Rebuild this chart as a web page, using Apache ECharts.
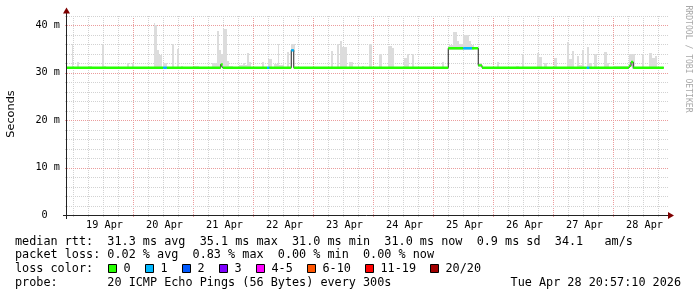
<!DOCTYPE html>
<html><head><meta charset="utf-8">
<script src="https://cdn.jsdelivr.net/npm/echarts@6/dist/echarts.min.js"></script>
<style>html,body{margin:0;padding:0;background:#fff}#c{width:697px;height:297px}</style>
</head><body><div id="c"></div>
<script>
// x values are hours since 18 Apr 00:00
const axisStartHour = 21.6, axisEndHour = 261.6;
const yMax = 42;
const dayLabels = ['19 Apr','20 Apr','21 Apr','22 Apr','23 Apr','24 Apr','25 Apr','26 Apr','27 Apr','28 Apr'];
const dayLabelHours = [36,60,84,108,132,156,180,204,228,252];
const minorGridHours = [24,30,36,42,48,54,60,66,72,78,84,90,96,102,108,114,120,126,132,138,144,150,156,162,168,174,180,186,192,198,204,210,216,222,228,234,240,246,252,258];
const majorGridHours = [48,72,96,120,144,168,192,216,240];
const yGridValues = [2,4,6,8,10,12,14,16,18,20,22,24,26,28,30,32,34,36,38,40,42];
const yMajorValues = [10,20,30,40];

// median RTT (ms) as steps between breakpoints, with loss count (of 20)
const medianBreaks = [21.6,60.1,61.5,83.1,83.9,101.6,102.5,111.3,112.3,174.1,180.1,183.6,186.1,187.6,229.5,230.5,246.3,247.2,248.1,260.3];
const medianValues = [31.0,31.0,31.0,31.7,31.0,31.0,31.0,34.7,31.0,35.1,35.1,35.1,31.5,31.0,31.0,31.0,31.4,32.2,31.0];
const medianLoss   = [0,1,0,0,0,1,0,1,0,0,1,0,0,0,1,0,0,0,0];

// smoke (spread of pings): start hour, end hour, top ms
const smokeStart = [23.6,25.6,30.5,35.6,36.5,45.6,47.6,56.3,56.9,57.6,58.5,60.1,63.6,65.6,67.2,72.5,79.5,81.5,82.3,83.1,84.1,85.5,86.5,90.5,92.1,92.7,93.5,94.3,99.6,101.9,104.5,105.9,106.5,107.9,109.5,111.3,127.3,129.5,130.8,131.6,134.3,137.9,139.5,142.3,146.3,150.1,151.5,156.3,157.5,159.5,171.6,174.5,176.1,177.5,178.5,179.9,181.2,182.3,183.2,186.3,193.5,201.2,203.6,209.5,210.3,212.5,216.3,221.5,222.3,223.6,225.5,226.3,227.6,229.5,230.5,232.4,236.3,237.5,239.9,246.3,247.6,251.6,254.3,255.6,256.7];
const smokeEnd = [24.1,26.3,31.6,36.3,37.2,46.3,48.3,56.9,57.6,58.5,59.5,61.5,64.4,66.4,67.9,74.3,81.5,82.3,83.1,83.9,85.5,86.3,87.9,92.1,92.7,93.5,94.3,95.2,100.3,103.6,105.9,106.5,107.9,108.5,110.3,112.7,128.1,130.3,131.6,133.5,136.1,138.5,140.3,143.6,147.6,151.5,152.3,157.5,158.3,160.3,172.3,176.1,177.5,178.5,179.9,181.2,182.3,183.2,184.5,187.6,194.3,202.3,204.4,210.3,211.6,213.5,217.5,222.3,223.6,224.4,226.3,227.6,228.4,230.3,231.6,233.5,237.5,238.3,246.3,247.6,248.9,252.4,255.6,256.7,257.5];
const smokeTop = [35.9,32.2,31.4,36.1,31.4,31.9,32.0,40.4,40.0,34.7,33.7,31.9,36.0,34.9,31.3,31.4,32.0,38.7,34.7,34.0,39.1,32.5,31.3,31.5,32.0,31.6,34.1,32.2,32.2,32.9,31.7,35.9,31.5,32.3,34.3,36.1,34.5,35.9,36.6,35.4,32.2,31.8,31.4,35.9,34.0,35.5,35.1,33.0,34.0,34.0,32.2,35.7,38.5,36.6,36.1,38.0,38.0,36.6,35.7,32.0,32.3,31.4,34.0,34.2,33.2,32.0,33.1,36.4,32.8,34.5,33.5,31.6,34.8,35.4,32.0,33.8,34.3,32.0,31.4,34.0,33.8,34.0,34.2,33.0,33.4];

const lossLabels = ['0','1','2','3','4-5','6-10','11-19','20/20'];
const lossColors = ['#26ff00','#00b8ff','#0059ff','#7e00ff','#ff00ff','#ff5500','#ff0000','#a10000'];

const legendRow1 = 'median rtt:  31.3 ms avg  35.1 ms max  31.0 ms min  31.0 ms now  0.9 ms sd  34.1   am/s';
const legendRow2 = 'packet loss: 0.02 % avg  0.83 % max  0.00 % min  0.00 % now';
const legendRow3 = 'loss color:';
const legendRow4 = 'probe:       20 ICMP Echo Pings (56 Bytes) every 300s';
const stampText = 'Tue Apr 28 20:57:10 2026';

const MONO = '"DejaVu Sans Mono", monospace';
const GRID = '#d2d2d2', MGRID = '#eb9c9c', AXIS = '#222', ARROW = '#7f0000';

function bucketOf(l){ if(l<=3) return l; if(l<=5) return 4; if(l<=10) return 5; if(l<=19) return 6; return 7; }
function medianAt(h){ for(let i=0;i<medianValues.length;i++){ if(h>=medianBreaks[i] && h<medianBreaks[i+1]) return medianValues[i]; } return medianValues[medianValues.length-1]; }

const blackData = [];
medianValues.forEach((v,i)=>{ blackData.push([medianBreaks[i], v],[medianBreaks[i+1], v]); });
const lossData = lossColors.map(()=>[]);
medianValues.forEach((v,i)=>{
  const d = lossData[bucketOf(medianLoss[i])];
  if (d.length) d.push([medianBreaks[i], null]);
  d.push([medianBreaks[i], v],[medianBreaks[i+1], v]);
});
const smokeData = smokeStart.map((s,i)=>[s, smokeEnd[i], smokeTop[i], medianAt((s+smokeEnd[i])/2)-0.3]);
const vGridData = minorGridHours.map(h=>[h, 0, majorGridHours.indexOf(h)>=0 ? 1 : 0]);
const hGridData = yGridValues.map(v=>[axisStartHour, v, yMajorValues.indexOf(v)>=0 ? 1 : 0]);

const series = [
  {type:'custom', z:1, silent:true, animation:false, encode:{x:0,y:1}, data:vGridData,
   renderItem:(p,api)=>{ const h=api.value(0); const t=api.coord([h,yMax]); const b=api.coord([h,0]);
     const x=Math.round(t[0])+0.5;
     return {type:'line', shape:{x1:x,y1:Math.round(t[1]),x2:x,y2:Math.round(b[1])+2}, style:{stroke:api.value(2)?MGRID:GRID, lineWidth:1, lineDash:[1,1]}}; }},
  {type:'custom', z:1, silent:true, animation:false, encode:{x:0,y:1}, data:hGridData,
   renderItem:(p,api)=>{ const v=api.value(1); const a=api.coord([axisStartHour,v]); const b=api.coord([axisEndHour,v]);
     const y=Math.round(a[1])+0.5;
     return {type:'line', shape:{x1:Math.round(a[0])-2,y1:y,x2:Math.round(b[0])+2,y2:y}, style:{stroke:api.value(2)?MGRID:GRID, lineWidth:1, lineDash:[1,1]}}; }},
  {type:'custom', z:2, silent:true, animation:false, encode:{x:[0,1],y:[2,3]}, data:smokeData,
   renderItem:(p,api)=>{ const a=api.coord([api.value(0),api.value(3)]); const b=api.coord([api.value(1),api.value(2)]);
     const x0=Math.round(a[0]); const x1=Math.max(Math.round(b[0]), x0+1); const yt=Math.round(b[1]); const yb=Math.round(a[1]);
     return {type:'rect', shape:{x:x0,y:yt,width:x1-x0,height:yb-yt}, style:{fill:'#dcdcdc'}}; }},
  {type:'line', z:3, silent:true, animation:false, showSymbol:false, symbol:'none', data:blackData,
   lineStyle:{color:'#202020', width:1}}
];
lossData.forEach((d,i)=>{ if(d.length) series.push({type:'line', z:4, silent:true, animation:false, showSymbol:false, symbol:'none', connectNulls:false, data:d, lineStyle:{color:lossColors[i], width:2.4, cap:'butt'}}); });

// legend graphics
const graphic = [];
const rowY = [241.5, 255.2, 268.8, 282.6];
const txt = (t,x,y,opts)=>Object.assign({type:'text', silent:true, style:{text:t, x:x, y:y, font:'11.8px '+MONO, fill:'#000', textAlign:'left', align:'left', textVerticalAlign:'middle', verticalAlign:'middle'}}, opts||{});
graphic.push(txt(legendRow1, 15, rowY[0]));
graphic.push(txt(legendRow2, 15, rowY[1]));
graphic.push(txt(legendRow3, 15, rowY[2]));
graphic.push(txt(legendRow4, 15, rowY[3]));
const st = txt(stampText, 681, rowY[3]); st.style.textAlign='right'; st.style.align='right'; graphic.push(st);
let bx = 108;
lossLabels.forEach((lab,i)=>{
  graphic.push({type:'rect', silent:true, shape:{x:bx+0.5, y:264.5, width:8, height:8}, style:{fill:lossColors[i], stroke:'#000', lineWidth:1}});
  graphic.push(txt(lab, bx+15.5, rowY[2]));
  bx += 16 + (lab.length+2)*7.0;
});
// y axis name
graphic.push({type:'text', silent:true, x:11, y:114, rotation:Math.PI/2, style:{text:'Seconds', x:0, y:0, font:'11.3px "DejaVu Sans"', fill:'#000', textAlign:'center', align:'center', textVerticalAlign:'middle', verticalAlign:'middle'}});
// watermark
graphic.push({type:'text', silent:true, x:688, y:59, rotation:-Math.PI/2, style:{text:'RRDTOOL / TOBI OETIKER', x:0, y:0, font:'8.1px '+MONO, fill:'#a8a8a8', textAlign:'center', align:'center', textVerticalAlign:'middle', verticalAlign:'middle'}});
// axes lines and arrows
graphic.push({type:'line', silent:true, shape:{x1:63, y1:215.5, x2:670, y2:215.5}, style:{stroke:AXIS, lineWidth:1}, z:50});
graphic.push({type:'line', silent:true, shape:{x1:66.5, y1:219, x2:66.5, y2:12}, style:{stroke:AXIS, lineWidth:1}, z:50});
graphic.push({type:'polygon', silent:true, shape:{points:[[668,212],[674,215.5],[668,219]]}, style:{fill:ARROW}, z:50});
graphic.push({type:'polygon', silent:true, shape:{points:[[63,13.5],[66.5,7.5],[70,13.5]]}, style:{fill:ARROW}, z:50});

const chart = echarts.init(document.getElementById('c'), null, {renderer:'canvas', width:697, height:297});
chart.setOption({
  backgroundColor:'#ffffff',
  animation:false,
  grid:{left:67, top:15.5, width:600, height:199.5, containLabel:false},
  xAxis:{type:'value', min:axisStartHour, max:axisEndHour,
    axisLine:{show:false}, splitLine:{show:false},
    axisTick:{show:false},
    axisLabel:{customValues:dayLabelHours, formatter:(v)=>{ const i=dayLabelHours.indexOf(v); return i>=0?dayLabels[i]:''; },
      fontFamily:'"DejaVu Sans Mono"', fontSize:10.2, color:'#000', margin:5, padding:[0,0,0,3], showMinLabel:true, showMaxLabel:true}},
  yAxis:{type:'value', min:0, max:yMax, interval:2,
    axisLine:{show:false}, splitLine:{show:false},
    axisTick:{show:false},
    axisLabel:{formatter:(v)=> (v%10===0 ? (v===0 ? '0  ' : v+' m') : ''), fontFamily:'"DejaVu Sans Mono"', fontSize:10.2, color:'#000', margin:7}},
  series:series,
  graphic:graphic
});
</script></body></html>
